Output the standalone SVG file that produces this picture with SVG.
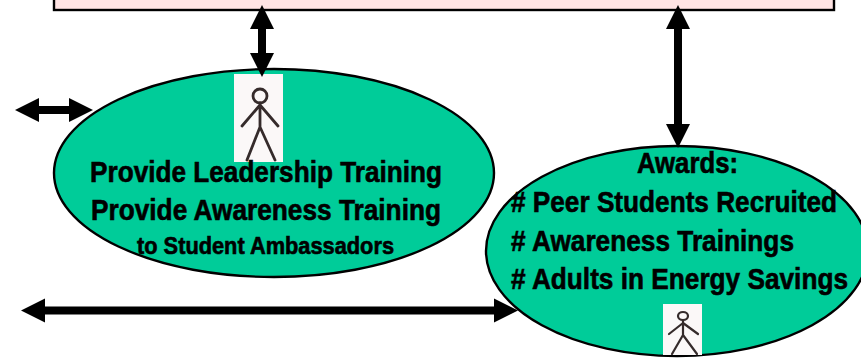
<svg xmlns="http://www.w3.org/2000/svg" width="861" height="358" viewBox="0 0 861 358">
<style>
.oval{fill:#00CC99;stroke:#000;stroke-width:2.4}
.fig{fill:#FBF8F8}
.stick{fill:none;stroke:#352b2b;stroke-width:2.8;stroke-linecap:round;stroke-linejoin:round}
.t{font-family:"Liberation Sans",Arial,sans-serif;font-weight:700;fill:#000;stroke:#000;stroke-width:.6}
.b{font-size:29px}
.s{font-size:23px}
.c{fill:none;stroke:#000;stroke-width:8}
</style>
<defs>
<marker id="ah" markerUnits="userSpaceOnUse" markerWidth="24" markerHeight="24" refX="0" refY="12" orient="auto-start-reverse" overflow="visible"><path d="M0,0L24,12L0,24Z" fill="#000"/></marker>
</defs>
<rect width="861" height="358" fill="#fff"/>
<g id="box"><rect x="54" y="-10" width="780" height="20" fill="#FFE4E4" stroke="#000" stroke-width="2.4"/></g>
<g id="leadership">
<ellipse class="oval" cx="274" cy="173" rx="220" ry="104"/>
<rect class="fig" x="234" y="74" width="49" height="88"/>
<g class="stick"><circle cx="260" cy="96" r="7"/><path d="M260,103V127M242,126L260,105L278,126M247,160L260,127L275,160"/></g>
<text class="t b" x="90" y="182" textLength="352" lengthAdjust="spacingAndGlyphs">Provide Leadership Training</text>
<text class="t b" x="91" y="220" textLength="350" lengthAdjust="spacingAndGlyphs">Provide Awareness Training</text>
<text class="t s" x="137" y="254" textLength="257" lengthAdjust="spacingAndGlyphs">to Student Ambassadors</text>
</g>
<g id="awards">
<ellipse class="oval" cx="677" cy="251" rx="191" ry="105"/>
<rect class="fig" x="663" y="304" width="39" height="51"/>
<g class="stick" style="stroke-width:2.2"><ellipse cx="683" cy="316" rx="5" ry="4"/><path d="M683,320V335M669,334L683,323L698,334M672,354L683,335L697,354"/></g>
<text class="t b" x="637" y="173" textLength="101" lengthAdjust="spacingAndGlyphs">Awards:</text>
<text class="t b" x="511" y="212" textLength="326" lengthAdjust="spacingAndGlyphs"># Peer Students Recruited</text>
<text class="t b" x="511" y="251" textLength="283" lengthAdjust="spacingAndGlyphs"># Awareness Trainings</text>
<text class="t b" x="511" y="289" textLength="337" lengthAdjust="spacingAndGlyphs"># Adults in Energy Savings</text>
</g>
<g id="connectors">
<line class="c" x1="262" y1="29" x2="262" y2="53" marker-start="url(#ah)" marker-end="url(#ah)"/>
<line class="c" x1="678" y1="29" x2="678" y2="124" marker-start="url(#ah)" marker-end="url(#ah)"/>
<line class="c" x1="39" y1="110" x2="69" y2="110" marker-start="url(#ah)" marker-end="url(#ah)"/>
<line class="c" x1="45" y1="310.5" x2="494" y2="310.5" marker-start="url(#ah)" marker-end="url(#ah)"/>
</g>
</svg>
